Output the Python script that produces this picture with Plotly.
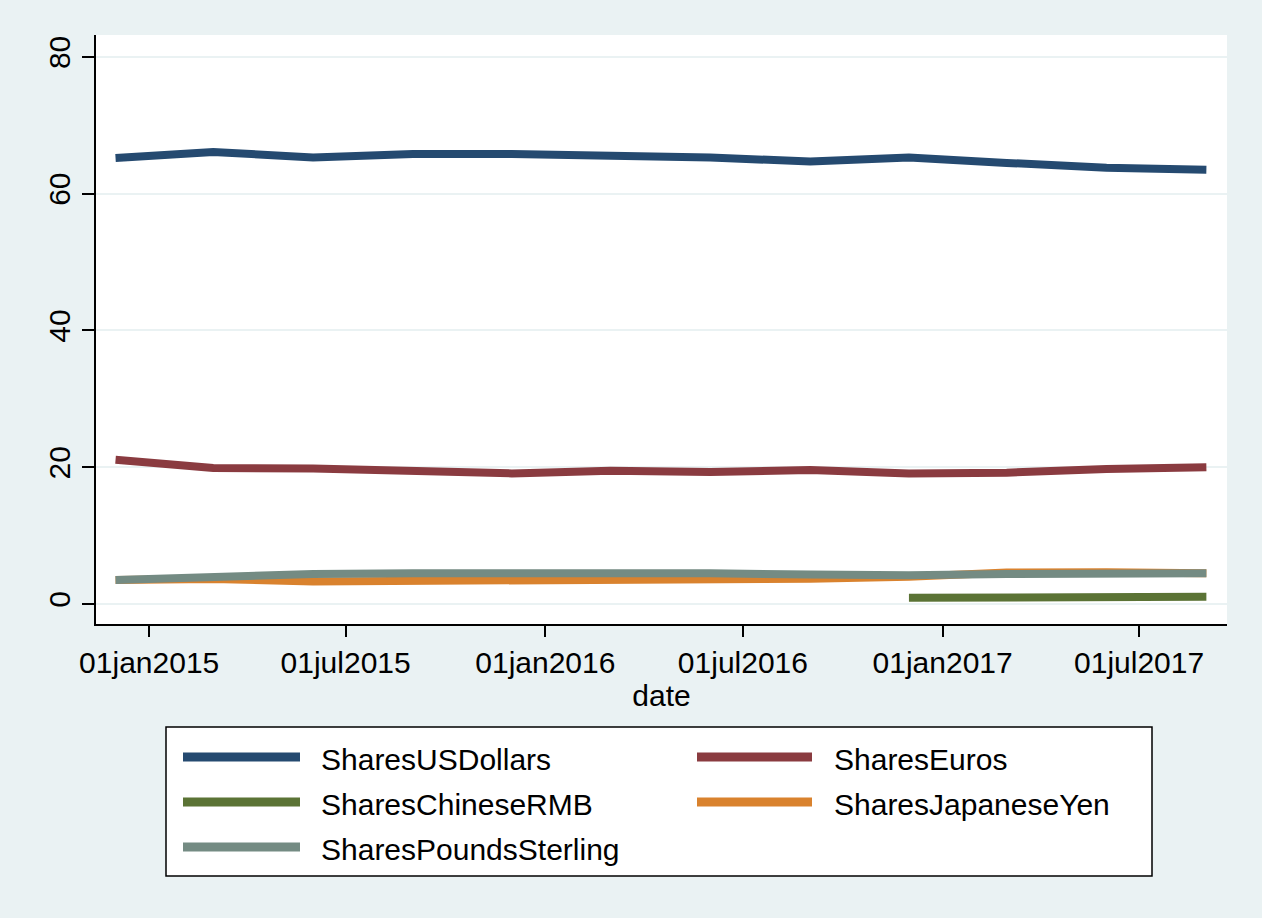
import plotly.graph_objects as go

# ---- data ----
dates = ["2014-12-01", "2015-03-01", "2015-06-01", "2015-09-01", "2015-12-01", "2016-03-01",
         "2016-06-01", "2016-09-01", "2016-12-01", "2017-03-01", "2017-06-01", "2017-09-01"]
usd = [65.2, 66.1, 65.3, 65.8, 65.8, 65.5, 65.3, 64.7, 65.3, 64.5, 63.8, 63.5]
eur = [21.1, 19.9, 19.8, 19.55, 19.1, 19.5, 19.3, 19.6, 19.1, 19.2, 19.75, 20.0]
rmb = [None, None, None, None, None, None, None, None, 0.9, 0.95, 1.0, 1.05]
jpy = [3.5, 3.65, 3.3, 3.35, 3.6, 3.7, 3.65, 3.7, 4.0, 4.6, 4.65, 4.5]
gbp = [3.5, 3.9, 4.4, 4.5, 4.55, 4.5, 4.5, 4.3, 4.2, 4.4, 4.4, 4.5]

names = ["SharesUSDollars", "SharesEuros", "SharesChineseRMB", "SharesJapaneseYen", "SharesPoundsSterling"]
series = [usd, eur, rmb, jpy, gbp]
colors = ["#254A70", "#8A3B40", "#5B7335", "#D9822E", "#748B83"]

xtick_vals = ["2015-01-01", "2015-07-01", "2016-01-01", "2016-07-01", "2017-01-01", "2017-07-01"]
xtick_text = ["01jan2015", "01jul2015", "01jan2016", "01jul2016", "01jan2017", "01jul2017"]
ytick_vals = [0, 20, 40, 60, 80]

# ---- layout geometry (pixels) ----
W, H = 1262, 918
L, R, T, B = 96, 1227, 35, 624
BG = "#EAF2F3"
FONT = "Liberation Sans, Arial, Helvetica, sans-serif"
FS = 30

def px(x):
    return (x - L) / (R - L)

def py(y):
    return (B - y) / (B - T)

fig = go.Figure()
for name, vals, col in zip(names, series, colors):
    fig.add_trace(go.Scatter(x=dates, y=vals, mode="lines", name=name,
                             line=dict(color=col, width=8), showlegend=False,
                             connectgaps=False))

# manual Stata-style legend
shapes = [dict(type="rect", xref="paper", yref="paper",
               x0=px(166), x1=px(1152), y0=py(727), y1=py(876),
               line=dict(color="black", width=1.5), fillcolor="white", layer="below")]
annotations = []
col_x = [(183, 300, 319), (697, 812, 832)]
row_y = [759, 804, 849]
for i, (name, col) in enumerate(zip(names, colors)):
    cx = col_x[i % 2]
    ry = row_y[i // 2]
    shapes.append(dict(type="line", xref="paper", yref="paper",
                       x0=px(cx[0]), x1=px(cx[1]), y0=py(ry - 2), y1=py(ry - 2),
                       line=dict(color=col, width=9)))
    annotations.append(dict(text=name, xref="paper", yref="paper", x=px(cx[2]), y=py(ry),
                            xanchor="left", yanchor="middle", showarrow=False,
                            font=dict(family=FONT, size=FS, color="black")))

fig.update_layout(
    width=W, height=H,
    margin=dict(l=L, r=W - R, t=T, b=H - B, pad=0),
    paper_bgcolor=BG, plot_bgcolor="white",
    font=dict(family=FONT, size=FS, color="black"),
    shapes=shapes, annotations=annotations,
    showlegend=False,
    xaxis=dict(range=["2014-11-13", "2017-09-20"], tickvals=xtick_vals, ticktext=xtick_text,
               showgrid=False, zeroline=False, showline=True, linecolor="black", linewidth=1.5,
               ticks="outside", ticklen=11, tickwidth=1.5, tickcolor="black",
               tickfont=dict(size=FS), title=dict(text="date", font=dict(size=FS), standoff=6)),
    yaxis=dict(range=[-2.92, 83.2], tickvals=ytick_vals, tickangle=-90,
               showgrid=True, gridcolor=BG, gridwidth=1.5, zeroline=False,
               showline=True, linecolor="black", linewidth=1.5,
               ticks="outside", ticklen=12, tickwidth=1.5, tickcolor="black",
               tickfont=dict(size=FS)),
)

fig.write_html("out.html", config={"displayModeBar": False},
               post_script="document.body.style.margin='0';document.body.style.background='%s';" % BG)
